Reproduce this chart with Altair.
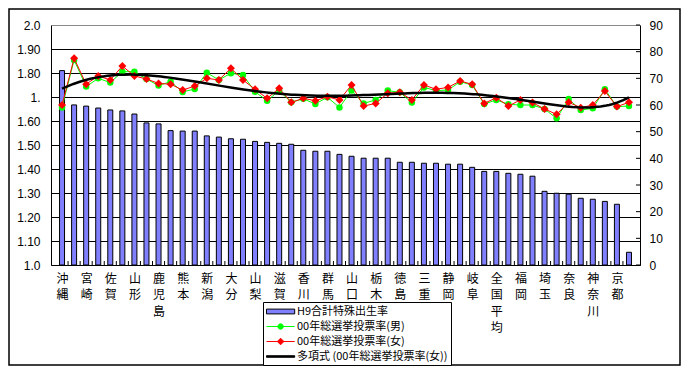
import altair as alt
import pandas as pd

# ---------------- data ----------------
categories = ["沖縄", "福島", "宮崎", "島根", "佐賀", "鳥取", "山形", "長崎", "鹿児島", "福井",
              "熊本", "岩手", "新潟", "長野", "大分", "青森", "山梨", "富山", "滋賀", "秋田",
              "香川", "石川", "群馬", "茨城", "山口", "和歌山", "栃木", "愛媛", "徳島", "岡山",
              "三重", "高知", "静岡", "宮城", "岐阜", "広島", "全国平均", "愛知", "福岡", "兵庫",
              "埼玉", "千葉", "奈良", "大阪", "神奈川", "北海道", "京都", "東京"]
tfr = [1.81, 1.667, 1.662, 1.654, 1.646, 1.642, 1.629, 1.592, 1.588, 1.56,
       1.558, 1.558, 1.538, 1.533, 1.526, 1.524, 1.515, 1.511, 1.507, 1.503,
       1.478, 1.474, 1.474, 1.461, 1.453, 1.445, 1.445, 1.445, 1.428, 1.428,
       1.424, 1.424, 1.42, 1.42, 1.407, 1.39, 1.39, 1.382, 1.378, 1.37,
       1.307, 1.299, 1.295, 1.278, 1.274, 1.265, 1.253, 1.053]
male = [59.1, 76.9, 66.9, 70.0, 68.4, 72.5, 72.5, 69.75, 67.3, 68.75,
        64.9, 66.0, 72.1, 69.4, 71.9, 71.25, 65.0, 61.6, 65.4, 61.0,
        62.3, 60.4, 62.9, 59.1, 65.4, 60.6, 61.9, 65.4, 64.75, 60.9,
        66.6, 65.4, 65.6, 68.75, 67.5, 60.4, 61.9, 60.25, 60.0, 60.0,
        58.5, 55.0, 62.25, 58.1, 58.75, 65.9, 59.4, 59.6]
female = [60.0, 77.5, 67.8, 70.9, 69.4, 74.6, 70.9, 69.75, 68.1, 67.8,
          65.6, 67.1, 70.0, 69.4, 73.75, 69.4, 65.9, 62.5, 66.25, 61.0,
          62.5, 61.6, 63.1, 61.9, 67.5, 59.6, 60.6, 64.4, 64.75, 61.9,
          67.5, 65.9, 66.6, 69.0, 67.75, 60.6, 62.75, 59.6, 61.9, 60.9,
          58.5, 56.5, 61.0, 59.0, 60.0, 65.25, 59.4, 61.0]
left_ticks = [1.0, 1.1, 1.2, 1.3, 1.4, 1.5, 1.6, 1.7, 1.8, 1.9, 2.0]
left_labels = ["1.0", "1.10", "1.20", "1.30", "1.40", "1.50", "1.60", "1.", "1.80", "1.90", "2.0"]
right_ticks = [0, 10, 20, 30, 40, 50, 60, 70, 80, 90]
series = ["H9合計特殊出生率", "00年総選挙投票率(男)", "00年総選挙投票率(女)",
          "多項式 (00年総選挙投票率(女))"]

n = len(categories)
df = pd.DataFrame({"idx": list(range(n)), "name": categories, "tfr": tfr,
                   "male": male, "female": female})
bounds_df = pd.DataFrame({"b": [i + 0.5 for i in range(n - 1)]})
rt_df = pd.DataFrame({"v": right_ticks})

# ---------------- styles ----------------
JP = "Noto Sans CJK JP"
NUM = "Liberation Sans"
BAR = "#8080FF"
GREEN = "#00FF00"
RED = "#FF0000"

cat_arr = "[" + ",".join("'" + c + "'" for c in categories) + "]"
lab_arr = "[" + ",".join("'" + c + "'" for c in left_labels) + "]"

xscale = alt.Scale(domain=[-0.5, n - 0.5], nice=False, zero=False)
x_axis = alt.Axis(values=list(range(0, n, 2)),
                  labelExpr="split(" + cat_arr + "[datum.value], '')",
                  tickSize=0, grid=False, domainColor="black", domainWidth=1,
                  labelFont=JP, labelFontSize=12, labelLineHeight=16.5,
                  labelPadding=8, labelAngle=0, labelBaseline="top",
                  labelAlign="center", labelColor="black", labelOverlap=False,
                  labelFlush=False, title=None)

lscale = alt.Scale(domain=[1.0, 2.0], nice=False, zero=False)
l_axis = alt.Axis(orient="left", values=left_ticks,
                  labelExpr=lab_arr + "[round(datum.value*10)-10]",
                  tickSize=0, labelPadding=11, grid=True,
                  gridColor={"condition": {"test": "datum.value >= 1.99", "value": "#8a8a8a"},
                             "value": "black"},
                  gridOpacity=1, gridWidth=1, domainColor="black",
                  labelFont=NUM, labelFontSize=12, labelColor="black", title=None)

rscale = alt.Scale(domain=[0, 90], nice=False, zero=True)
r_axis = alt.Axis(orient="right", values=right_ticks, tickSize=0, labelPadding=9,
                  grid=False, domainColor="black", labelFont=NUM, labelFontSize=12,
                  labelColor="black", title=None)


def X(field):
    return alt.X(field, type="quantitative", scale=xscale, axis=x_axis)


def YR(field):
    return alt.Y(field, type="quantitative", scale=rscale, axis=r_axis)


base = alt.Chart(df)

bars = base.mark_bar(fill=BAR, stroke="black", strokeWidth=1, size=5).encode(
    x=X("idx"),
    y=alt.Y("tfr", type="quantitative", scale=lscale, axis=l_axis),
    y2=alt.datum(1.0),
)

xticks = alt.Chart(bounds_df).mark_rule(color="black", strokeWidth=1).encode(
    x=X("b"), y=alt.value(236), y2=alt.value(240))

male_line = base.mark_line(color=GREEN, strokeWidth=1).encode(x=X("idx"), y=YR("male"))
male_pts = base.mark_point(shape="circle", filled=True, size=42, color=GREEN,
                           opacity=1).encode(x=X("idx"), y=YR("male"))
fem_line = base.mark_line(color=RED, strokeWidth=1).encode(x=X("idx"), y=YR("female"))
fem_pts = base.mark_point(shape="diamond", filled=True, size=64, color=RED,
                          opacity=1).encode(x=X("idx"), y=YR("female"))
trend = base.transform_regression("idx", "female", method="poly", order=6).mark_line(
    color="black", strokeWidth=2.5).encode(x=X("idx"), y=YR("female"))
rticks = alt.Chart(rt_df).mark_rule(color="black", strokeWidth=1).encode(
    y=YR("v"), x=alt.value(585), x2=alt.value(589))

lines = alt.layer(male_line, male_pts, fem_line, fem_pts, trend, rticks)

# legend (built by Vega-Lite from an explicit-domain scale); symbol paths are
# wider than the unit box so that rows stay compact
paths = [
    "M-1,-0.4H3.7V0.4H-1Z",
    "M-1,0H3.7M1.8,0A0.45,0.45,0,1,1,0.9,0A0.45,0.45,0,1,1,1.8,0Z",
    "M-1,0H3.7M1.35,-0.55L1.9,0L1.35,0.55L0.8,0Z",
    "M-1,-0.13H3.7V0.13H-1Z",
]
leg = alt.Legend(orient="none", legendX=212, legendY=277, title=None,
                 strokeColor="black", fillColor="white", padding=3, cornerRadius=0,
                 labelFont=JP, labelFontSize=11, labelColor="black", labelLimit=400,
                 symbolSize=144, symbolStrokeWidth=1, symbolOpacity=1,
                 rowPadding=3, labelOffset=18)
legend_df = pd.DataFrame({"series": series})
legend_layer = alt.Chart(legend_df).transform_filter("false").mark_point(
    filled=True, opacity=1).encode(
    fill=alt.Fill("series:N", scale=alt.Scale(domain=series, range=[BAR, GREEN, RED, "black"]),
                  legend=leg, sort=series),
    stroke=alt.Stroke("series:N", scale=alt.Scale(domain=series, range=["black", GREEN, RED, "black"]),
                      legend=leg, sort=series),
    shape=alt.Shape("series:N", scale=alt.Scale(domain=series, range=paths),
                    legend=leg, sort=series),
)

frame = alt.Chart(pd.DataFrame({"a": [0]})).mark_rect(
    fill=None, stroke="black", strokeWidth=1.5).encode(
    x=alt.value(-42), x2=alt.value(629), y=alt.value(-16), y2=alt.value(340))

chart = alt.layer(bars, xticks, lines, legend_layer, frame).resolve_scale(
    y="independent").properties(
    width=589, height=240,
    autosize=alt.AutoSizeParams(type="none"),
    padding={"left": 43, "top": 17, "right": 41, "bottom": 101},
    background="white",
).configure_view(stroke=None)

chart.save("out.html", embed_options={"renderer": "svg", "actions": False})
